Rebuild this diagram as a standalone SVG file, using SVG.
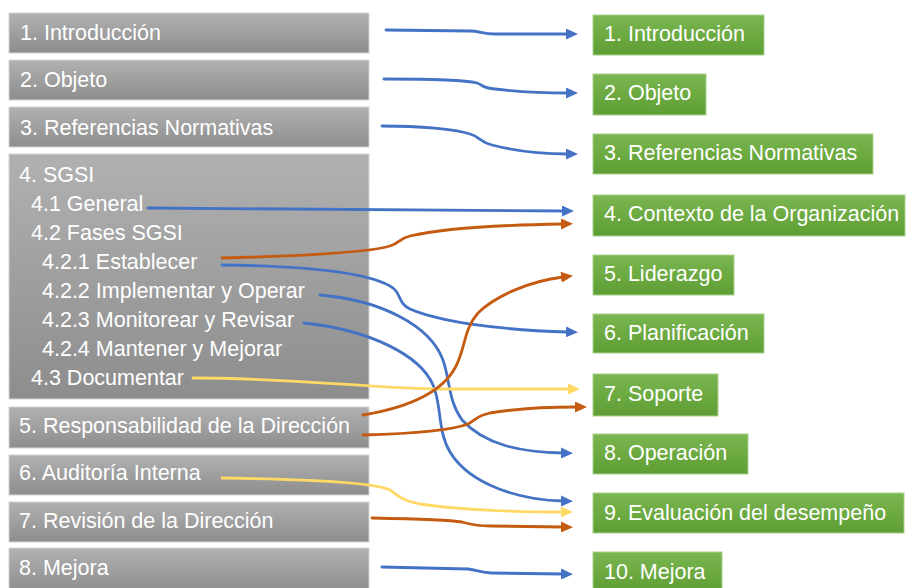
<svg xmlns="http://www.w3.org/2000/svg" width="907" height="588" viewBox="0 0 907 588">
<defs>
<linearGradient id="gGray" x1="0" y1="0" x2="0" y2="1">
<stop offset="0" stop-color="#b1b1b1"/>
<stop offset="1" stop-color="#8d8d8d"/>
</linearGradient>
<linearGradient id="gGreen" x1="0" y1="0" x2="0" y2="1">
<stop offset="0" stop-color="#7bb650"/>
<stop offset="1" stop-color="#5e9e34"/>
</linearGradient>
<marker id="aBlue" viewBox="0 0 12 11" markerWidth="12" markerHeight="11" refX="2" refY="5.5" orient="auto" markerUnits="userSpaceOnUse"><path d="M0,0 L12,5.5 L0,11 Z" fill="#4472c4"/></marker>
<marker id="aOrange" viewBox="0 0 12 11" markerWidth="12" markerHeight="11" refX="2" refY="5.5" orient="auto" markerUnits="userSpaceOnUse"><path d="M0,0 L12,5.5 L0,11 Z" fill="#c55a11"/></marker>
<marker id="aYellow" viewBox="0 0 12 11" markerWidth="12" markerHeight="11" refX="2" refY="5.5" orient="auto" markerUnits="userSpaceOnUse"><path d="M0,0 L12,5.5 L0,11 Z" fill="#ffd966"/></marker>
</defs>
<style>
.gray{fill:url(#gGray);stroke:#d4d4d4;stroke-width:1}
.green{fill:url(#gGreen);stroke:#a9d18e;stroke-width:1}
text{font-family:"Liberation Sans",Arial,sans-serif;font-size:21.5px;fill:#ffffff}
.c{fill:none;stroke-width:2.8;stroke-linecap:round}
.b{stroke:#4472c4;marker-end:url(#aBlue)}
.o{stroke:#c55a11;marker-end:url(#aOrange)}
.y{stroke:#ffd966;marker-end:url(#aYellow)}
</style>
<g id="left-nodes">
<g id="l1"><rect class="gray" x="9" y="13" width="360" height="40"/><text x="20" y="40">1. Introducción</text></g>
<g id="l2"><rect class="gray" x="9" y="60" width="360" height="40"/><text x="20" y="87">2. Objeto</text></g>
<g id="l3"><rect class="gray" x="9" y="107" width="360" height="40"/><text x="20" y="135">3. Referencias Normativas</text></g>
<g id="l4"><rect class="gray" x="9" y="154" width="360" height="245"/>
<text x="19" y="182">4. SGSI</text>
<text x="31" y="211">4.1 General</text>
<text x="31" y="240">4.2 Fases SGSI</text>
<text x="42" y="269">4.2.1 Establecer</text>
<text x="42" y="298">4.2.2 Implementar y Operar</text>
<text x="42" y="327">4.2.3 Monitorear y Revisar</text>
<text x="42" y="356">4.2.4 Mantener y Mejorar</text>
<text x="31" y="385">4.3 Documentar</text>
</g>
<g id="l5"><rect class="gray" x="9" y="407" width="360" height="41"/><text x="19" y="433">5. Responsabilidad de la Dirección</text></g>
<g id="l6"><rect class="gray" x="9" y="455" width="360" height="40"/><text x="19" y="480">6. Auditoría Interna</text></g>
<g id="l7"><rect class="gray" x="9" y="502" width="360" height="40"/><text x="19" y="528">7. Revisión de la Dirección</text></g>
<g id="l8"><rect class="gray" x="9" y="548" width="360" height="44"/><text x="19" y="575">8. Mejora</text></g>
</g>
<g id="right-nodes">
<g id="r1"><rect class="green" x="593" y="15" width="171" height="40"/><text x="604" y="41">1. Introducción</text></g>
<g id="r2"><rect class="green" x="593" y="74" width="113" height="41"/><text x="604" y="100">2. Objeto</text></g>
<g id="r3"><rect class="green" x="593" y="134" width="280" height="40"/><text x="604" y="160">3. Referencias Normativas</text></g>
<g id="r4"><rect class="green" x="593" y="195" width="312" height="41"/><text x="604" y="221">4. Contexto de la Organización</text></g>
<g id="r5"><rect class="green" x="593" y="255" width="141" height="40"/><text x="604" y="281">5. Liderazgo</text></g>
<g id="r6"><rect class="green" x="593" y="314" width="171" height="39"/><text x="604" y="340">6. Planificación</text></g>
<g id="r7"><rect class="green" x="593" y="374" width="125" height="42"/><text x="604" y="401">7. Soporte</text></g>
<g id="r8"><rect class="green" x="593" y="434" width="155" height="40"/><text x="604" y="460">8. Operación</text></g>
<g id="r9"><rect class="green" x="593" y="493" width="311" height="40"/><text x="604" y="520">9. Evaluación del desempeño</text></g>
<g id="r10"><rect class="green" x="593" y="552" width="129" height="40"/><text x="604" y="579">10. Mejora</text></g>
</g>
<g id="connectors">
<path class="c b" d="M386,30 L470,31 C480,31 482,34 495,34 L568,34"/>
<path class="c b" d="M384,79 C430,79 465,80 477,83 C483,85 482,88 495,89 C520,92 545,93 568,93"/>
<path class="c b" d="M382,126 C420,126 455,129 470,134 C480,137 480,142 492,145 C515,151 545,154 568,154"/>
<path class="c b" d="M148,208 C300,208 450,211 564,211"/>
<path class="c o" d="M222,258 C300,256 370,252 390,246 C400,243 398,239 410,236 C440,229 500,225 563,224"/>
<path class="c b" d="M222,265 C300,266 370,272 393,288 C401,294 398,303 410,309 C440,322 500,330 568,332"/>
<path class="c b" d="M320,295 C380,300 430,325 443,360 C450,380 448,400 462,420 C485,445 520,452 563,453"/>
<path class="c b" d="M304,323 C370,330 420,355 433,385 C442,405 437,430 450,452 C470,485 520,500 563,501"/>
<path class="c y" d="M193,378 C300,378 380,389 440,389 L570,389"/>
<path class="c o" d="M363,415 C405,408 440,395 455,368 C466,348 463,330 478,313 C495,296 530,281 563,277"/>
<path class="c o" d="M363,435 C400,434 450,431 468,424 C476,420 476,416 490,413 C520,408 550,407 577,407"/>
<path class="c y" d="M222,478 C300,479 375,482 390,490 C398,495 400,500 420,504 C460,510 520,512 563,512"/>
<path class="c o" d="M372,518 C420,519 450,520 462,522 C470,524 474,526 490,526 L563,527"/>
<path class="c b" d="M382,567 L468,569 C478,570 480,573 492,573 L563,574"/>
</g>
</svg>
